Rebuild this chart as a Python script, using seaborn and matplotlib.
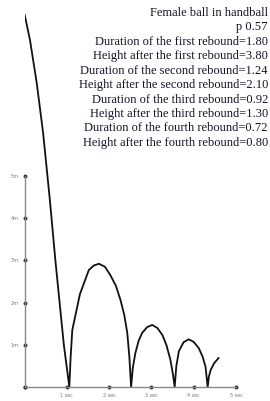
import matplotlib
matplotlib.use("Agg")
import matplotlib.pyplot as plt
import seaborn as sns

# ball height (m) against time (sec)
times = [0.0, 0.13, 0.29, 0.44, 0.60, 0.73, 0.83, 0.93, 1.06,
         1.09, 1.13, 1.31, 1.52, 1.64, 1.76, 1.90, 2.03, 2.16, 2.27, 2.36, 2.43, 2.48, 2.52,
         2.56, 2.62, 2.70, 2.78, 2.90, 3.02, 3.14, 3.26, 3.36, 3.45, 3.51, 3.55,
         3.59, 3.65, 3.76, 3.88, 4.00, 4.12, 4.21, 4.28, 4.33,
         4.36, 4.40, 4.48, 4.59]
heights = [8.84, 8.22, 7.2, 6.02, 4.43, 3.0, 2.0, 1.0, 0.0,
           0.7, 1.35, 2.2, 2.77, 2.88, 2.92, 2.85, 2.65, 2.40, 2.06, 1.70, 1.28, 0.70, 0.0,
           0.45, 0.80, 1.10, 1.28, 1.42, 1.47, 1.40, 1.23, 0.98, 0.64, 0.30, 0.0,
           0.50, 0.85, 1.06, 1.13, 1.07, 0.92, 0.72, 0.48, 0.0,
           0.25, 0.40, 0.56, 0.69]

x_ticks = [0, 1, 2, 3, 4, 5]
x_labels = ["", "1 sec", "2 sec", "3 sec", "4 sec", "5 sec"]
y_ticks = [0, 1, 2, 3, 4, 5]
y_labels = ["", "1m", "2m", "3m", "4m", "5m"]

info_lines = [
    "Female ball in handball",
    "p 0.57",
    "Duration of the first rebound=1.80",
    "Height after the first rebound=3.80",
    "Duration of the second rebound=1.24",
    "Height after the second rebound=2.10",
    "Duration of the third rebound=0.92",
    "Height after the third rebound=1.30",
    "Duration of the fourth rebound=0.72",
    "Height after the fourth rebound=0.80",
]

sns.set_style("white")
plt.rcParams["font.family"] = ["DejaVu Sans"]

W, H = 270, 401
fig = plt.figure(figsize=(W / 100, H / 100), dpi=100)
px_x = 42.3
px_y = 42.2
x0, y0 = 24.5, 387
ax = fig.add_axes([x0 / W, (H - y0) / H, 5 * px_x / W, 9 * px_y / H])

sns.lineplot(x=times, y=heights, sort=False, estimator=None,
             color="#111111", linewidth=1.3, ax=ax)

ax.set_xlim(0, 5)
ax.set_ylim(0, 9)
for side in ["top", "right"]:
    ax.spines[side].set_visible(False)
ax.spines["left"].set_bounds(0, 5)
ax.spines["bottom"].set_bounds(0, 5)
for side in ["left", "bottom"]:
    ax.spines[side].set_color("#888888")
    ax.spines[side].set_linewidth(1.0)

ax.set_xticks(x_ticks)
ax.set_xticklabels(x_labels)
ax.set_yticks(y_ticks)
ax.set_yticklabels(y_labels)
ax.tick_params(length=0, labelsize=3.5, labelcolor="#777777", pad=4)
for tick in ax.xaxis.get_major_ticks() + ax.yaxis.get_major_ticks():
    tick.tick1line.set_marker("o")
    tick.tick1line.set_markersize(2)
    tick.tick1line.set_color("#333333")
    tick.tick1line.set_visible(True)
ax.set_xlabel("")
ax.set_ylabel("")

fig.text(268 / W, 1 - 7 / H, "\n".join(info_lines), ha="right", va="top",
         multialignment="right", family="Liberation Serif", fontsize=9,
         color="#14142a", linespacing=1.27)

fig.savefig("out.png", dpi=100)
plt.close(fig)
